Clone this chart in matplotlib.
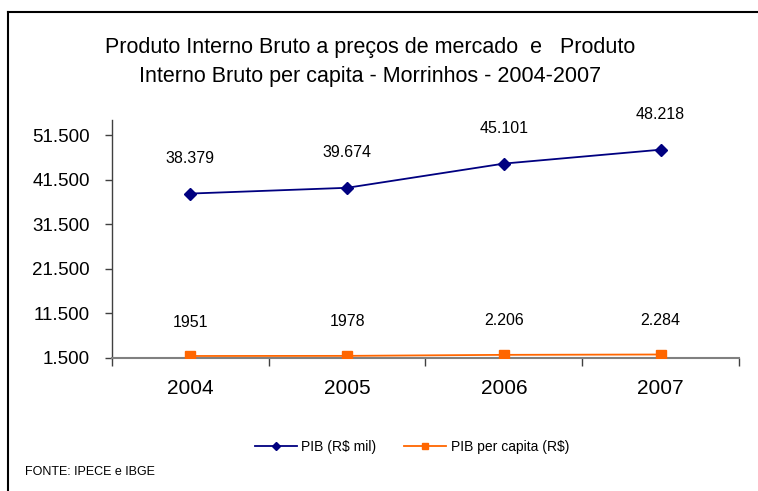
import matplotlib
matplotlib.use("Agg")
import matplotlib.pyplot as plt
from matplotlib.lines import Line2D

plt.rcParams['font.family'] = ['Liberation Sans', 'DejaVu Sans']

years = ['2004', '2005', '2006', '2007']
pib = [38379, 39674, 45101, 48218]
pib_labels = ['38.379', '39.674', '45.101', '48.218']
pib_pc = [1951, 1978, 2206, 2284]
pib_pc_labels = ['1951', '1978', '2.206', '2.284']
yticks = [1500, 11500, 21500, 31500, 41500, 51500]
ytick_labels = ['1.500', '11.500', '21.500', '31.500', '41.500', '51.500']

W, H = 758, 491
fig = plt.figure(figsize=(W / 100, H / 100), dpi=100)

# outer frame (left and top)
fig.add_artist(Line2D([8 / W, 8 / W], [0, 1 - 12 / H], color='black', lw=1.5, transform=fig.transFigure))
fig.add_artist(Line2D([8 / W, 1], [1 - 12 / H, 1 - 12 / H], color='black', lw=1.5, transform=fig.transFigure))

ax_left, ax_right, ax_top, ax_bottom = 112, 739, 120, 358
ax = fig.add_axes([ax_left / W, 1 - ax_bottom / H, (ax_right - ax_left) / W, (ax_bottom - ax_top) / H])

x = list(range(len(years)))
ax.plot(x, pib, color='#000080', lw=1.3, marker='D', markersize=6.5, label='PIB (R$ mil)', zorder=3)
ax.plot(x, pib_pc, color='#FF6600', lw=1.3, marker='s', markersize=7, label='PIB per capita (R$)', zorder=3)

for xi, v, s in zip(x, pib, pib_labels):
    ax.annotate(s, (xi, v), xytext=(0, 20), textcoords='offset points', ha='center', va='bottom', fontsize=11.5)
for xi, v, s in zip(x, pib_pc, pib_pc_labels):
    ax.annotate(s, (xi, v), xytext=(0, 19), textcoords='offset points', ha='center', va='bottom', fontsize=11.5)

ymin = 1500
ymax = 51500 + (135 - ax_top) * 50000 / 222
ax.set_ylim(ymin, ymax)
ax.set_xlim(-0.5, len(years) - 0.5)

ax.set_yticks(yticks)
ax.set_yticklabels(ytick_labels, fontsize=13.5)
ax.tick_params(axis='y', direction='out', length=5, width=1, pad=11, color='#404040')

ax.set_xticks(x)
ax.set_xticklabels(years, fontsize=15)
ax.tick_params(axis='x', which='major', length=0, pad=15)
ax.set_xticks([i - 0.5 for i in range(len(years) + 1)], minor=True)
ax.tick_params(axis='x', which='minor', direction='out', length=6, width=1, color='#404040')

for s in ['top', 'right']:
    ax.spines[s].set_visible(False)
ax.spines['bottom'].set_color('#808080')
ax.spines['bottom'].set_linewidth(1.5)
ax.spines['left'].set_color('#404040')
ax.spines['left'].set_linewidth(1)

fig.text(370 / W, 1 - 47 / H, 'Produto Interno Bruto a preços de mercado  e   Produto',
         ha='center', va='center', fontsize=15.5)
fig.text(370 / W, 1 - 77 / H, 'Interno Bruto per capita - Morrinhos - 2004-2007',
         ha='center', va='center', fontsize=15.5)

fig.legend(loc='center', bbox_to_anchor=(412 / W, 1 - 447 / H), ncol=2, frameon=False,
           fontsize=10, handlelength=3, columnspacing=2, handletextpad=0.35, markerscale=0.6)

fig.text(25 / W, 1 - 472 / H, 'FONTE: IPECE e IBGE', ha='left', va='center', fontsize=9)

fig.savefig('out.png', dpi=100)
